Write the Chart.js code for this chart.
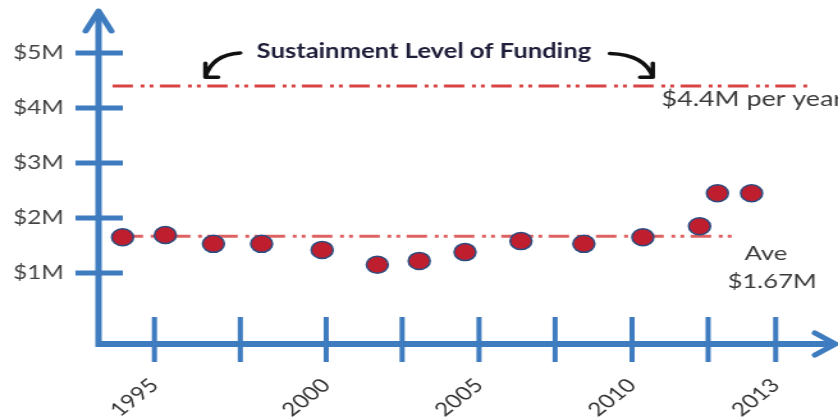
<!DOCTYPE html>
<html>
<head>
<meta charset="utf-8">
<script src="https://cdn.jsdelivr.net/npm/chart.js@4/dist/chart.umd.min.js"></script>
<style>
  html, body { margin: 0; padding: 0; background: #fff; overflow: hidden; }
  /* the source picture is stretched sideways, so draw narrow and stretch */
  #wrap { width: 655px; height: 420px; transform: scaleX(1.2794); transform-origin: 0 0; }
</style>
</head>
<body>
<div id="wrap"><canvas id="chart"></canvas></div>
<script>
(function () {
  'use strict';

  // ── Data ────────────────────────────────────────────────
  // x is a position along the drawn axis (1995 tick = 0, 2013 tick = 8)
  var xTicks  = [0, 1.106, 2.212, 3.19, 4.18, 5.16, 6.15, 7.13, 8];
  var xLabels = ['1995', '', '2000', '', '2005', '', '2010', '', '2013'];
  var yTicks  = [1, 2, 3, 4, 5];
  var yLabels = ['$1M', '$2M', '$3M', '$4M', '$5M'];

  var fundX = [-0.41, 0.14, 0.76, 1.38, 2.16, 2.87, 3.41, 4.0, 4.72, 5.53, 6.29, 7.02, 7.25, 7.69];
  var fundM = [1.65, 1.69, 1.53, 1.53, 1.42, 1.15, 1.22, 1.38, 1.58, 1.53, 1.65, 1.85, 2.45, 2.45];

  var aveLevel     = 1.67;
  var aveSpan      = [-0.41, 7.45];
  var sustainLevel = 4.4;
  var sustainSpan  = [-0.54, 8.46];

  // ── Style ───────────────────────────────────────────────
  var AXIS    = '#3E7BBF';
  var DOT     = '#BE1E2D';
  var DOT_RIM = '#2D4C80';
  var SUSTAIN = '#D84444';
  var AVE     = '#DE6262';
  var TEXT    = '#3A3A3A';
  var DASHDOT = [16, 6, 3, 4, 3, 5];

  Chart.defaults.font.family = 'Lato, sans-serif';

  function pts(xs, ys) {
    return xs.map(function (x, i) { return { x: x, y: ys[i] }; });
  }

  // ── Axes with arrows and crossing ticks, plus notes ─────
  var decor = {
    id: 'decor',
    beforeDatasetsDraw: function (chart) {
      var ctx = chart.ctx, a = chart.chartArea;
      var xs = chart.scales.x, ys = chart.scales.y;
      var L = a.left, B = a.bottom, T = a.top, R = a.right;

      ctx.save();
      ctx.strokeStyle = AXIS;

      ctx.lineWidth = 5;
      ctx.beginPath(); ctx.moveTo(L, B + 3); ctx.lineTo(L, T + 2); ctx.stroke();
      ctx.lineWidth = 6;
      ctx.beginPath(); ctx.moveTo(L - 2, B); ctx.lineTo(R - 1, B); ctx.stroke();

      ctx.lineCap = 'round';
      ctx.lineJoin = 'round';
      ctx.lineWidth = 5;
      ctx.beginPath();
      ctx.moveTo(L - 10, T + 21); ctx.lineTo(L, T + 1); ctx.lineTo(L + 10, T + 21);
      ctx.stroke();
      ctx.beginPath();
      ctx.moveTo(R - 16, B - 11); ctx.lineTo(R, B); ctx.lineTo(R - 16, B + 11);
      ctx.stroke();

      ctx.lineCap = 'butt';
      ctx.lineWidth = 5;
      yTicks.forEach(function (v) {
        var y = ys.getPixelForValue(v);
        ctx.beginPath(); ctx.moveTo(L - 18, y); ctx.lineTo(L + 19, y); ctx.stroke();
      });
      ctx.lineWidth = 4;
      xTicks.forEach(function (v) {
        var x = xs.getPixelForValue(v);
        ctx.beginPath(); ctx.moveTo(x, B - 27); ctx.lineTo(x, B + 18); ctx.stroke();
      });
      ctx.restore();
    },
    afterDatasetsDraw: function (chart) {
      var ctx = chart.ctx;
      var xs = chart.scales.x, ys = chart.scales.y;
      function P(x, y) { return [xs.getPixelForValue(x), ys.getPixelForValue(y)]; }

      function curvedArrow(tail, ctrl, tip, side) {
        ctx.beginPath();
        ctx.moveTo(tail[0], tail[1]);
        ctx.quadraticCurveTo(ctrl[0], ctrl[1], tip[0], tip[1]);
        ctx.moveTo(tip[0], tip[1] - 14);
        ctx.lineTo(tip[0], tip[1]);
        ctx.lineTo(tip[0] + side, tip[1]);
        ctx.stroke();
      }

      ctx.save();
      ctx.textBaseline = 'middle';

      var t = P(3.47, 5.02);
      ctx.font = 'bold 20px Lato, sans-serif';
      ctx.fillStyle = '#1E1E3A';
      ctx.textAlign = 'center';
      ctx.fillText('Sustainment Level of Funding', t[0], t[1]);

      ctx.strokeStyle = '#111';
      ctx.lineWidth = 3.5;
      ctx.lineCap = 'round';
      ctx.lineJoin = 'round';
      curvedArrow(P(1.106, 5.0), P(0.74, 4.97), P(0.656, 4.56), 10);
      curvedArrow(P(5.865, 4.99), P(6.32, 4.97), P(6.418, 4.56), -10);

      ctx.font = '21px Lato, sans-serif';
      ctx.fillStyle = TEXT;
      ctx.textAlign = 'left';
      var s = P(6.53, 4.15);
      ctx.fillText('$4.4M per year', s[0], s[1]);
      ctx.font = '20px Lato, sans-serif';
      var av = P(7.60, 1.36);
      ctx.fillText('Ave', av[0], av[1]);
      var am = P(7.38, 0.85);
      ctx.fillText('$1.67M', am[0], am[1]);
      ctx.restore();
    }
  };

  // ── Chart ───────────────────────────────────────────────
  new Chart(document.getElementById('chart'), {
    type: 'scatter',
    data: {
      datasets: [
        {
          label: 'Funding',
          data: pts(fundX, fundM),
          backgroundColor: DOT,
          borderColor: DOT_RIM,
          borderWidth: 1.5,
          pointRadius: 8.5,
          pointHoverRadius: 8.5
        },
        {
          label: 'Average',
          data: pts(aveSpan, [aveLevel, aveLevel]),
          showLine: true,
          borderColor: AVE,
          borderWidth: 3,
          borderDash: DASHDOT,
          pointRadius: 0
        },
        {
          label: 'Sustainment',
          data: pts(sustainSpan, [sustainLevel, sustainLevel]),
          showLine: true,
          borderColor: SUSTAIN,
          borderWidth: 3,
          borderDash: DASHDOT,
          pointRadius: 0
        }
      ]
    },
    options: {
      responsive: true,
      maintainAspectRatio: false,
      animation: false,
      layout: { autoPadding: false, padding: { top: 10, right: 2, left: 0, bottom: 0 } },
      plugins: { legend: { display: false }, tooltip: { enabled: false } },
      scales: {
        x: {
          type: 'linear',
          min: -0.72,
          max: 8.77,
          grid: { display: false, drawTicks: false },
          border: { display: false },
          afterBuildTicks: function (sc) { sc.ticks = xTicks.map(function (v) { return { value: v }; }); },
          afterFit: function (sc) {
            sc.height = 76;
            sc.paddingLeft = 0;
            sc.paddingRight = 0;
          },
          ticks: {
            autoSkip: false,
            minRotation: 45,
            maxRotation: 45,
            padding: 30,
            color: '#333',
            font: { size: 19 },
            callback: function (v, i) { return xLabels[i]; }
          }
        },
        y: {
          min: -0.29,
          max: 5.78,
          grid: { display: false, drawTicks: false },
          border: { display: false },
          afterBuildTicks: function (sc) { sc.ticks = yTicks.map(function (v) { return { value: v }; }); },
          afterFit: function (sc) {
            sc.width = 77;
            sc.paddingTop = 0;
            sc.paddingBottom = 0;
          },
          ticks: {
            padding: 27,
            color: '#444',
            font: { size: 19 },
            callback: function (v, i) { return yLabels[i]; }
          }
        }
      }
    },
    plugins: [decor]
  });
}());
</script>
</body>
</html>
